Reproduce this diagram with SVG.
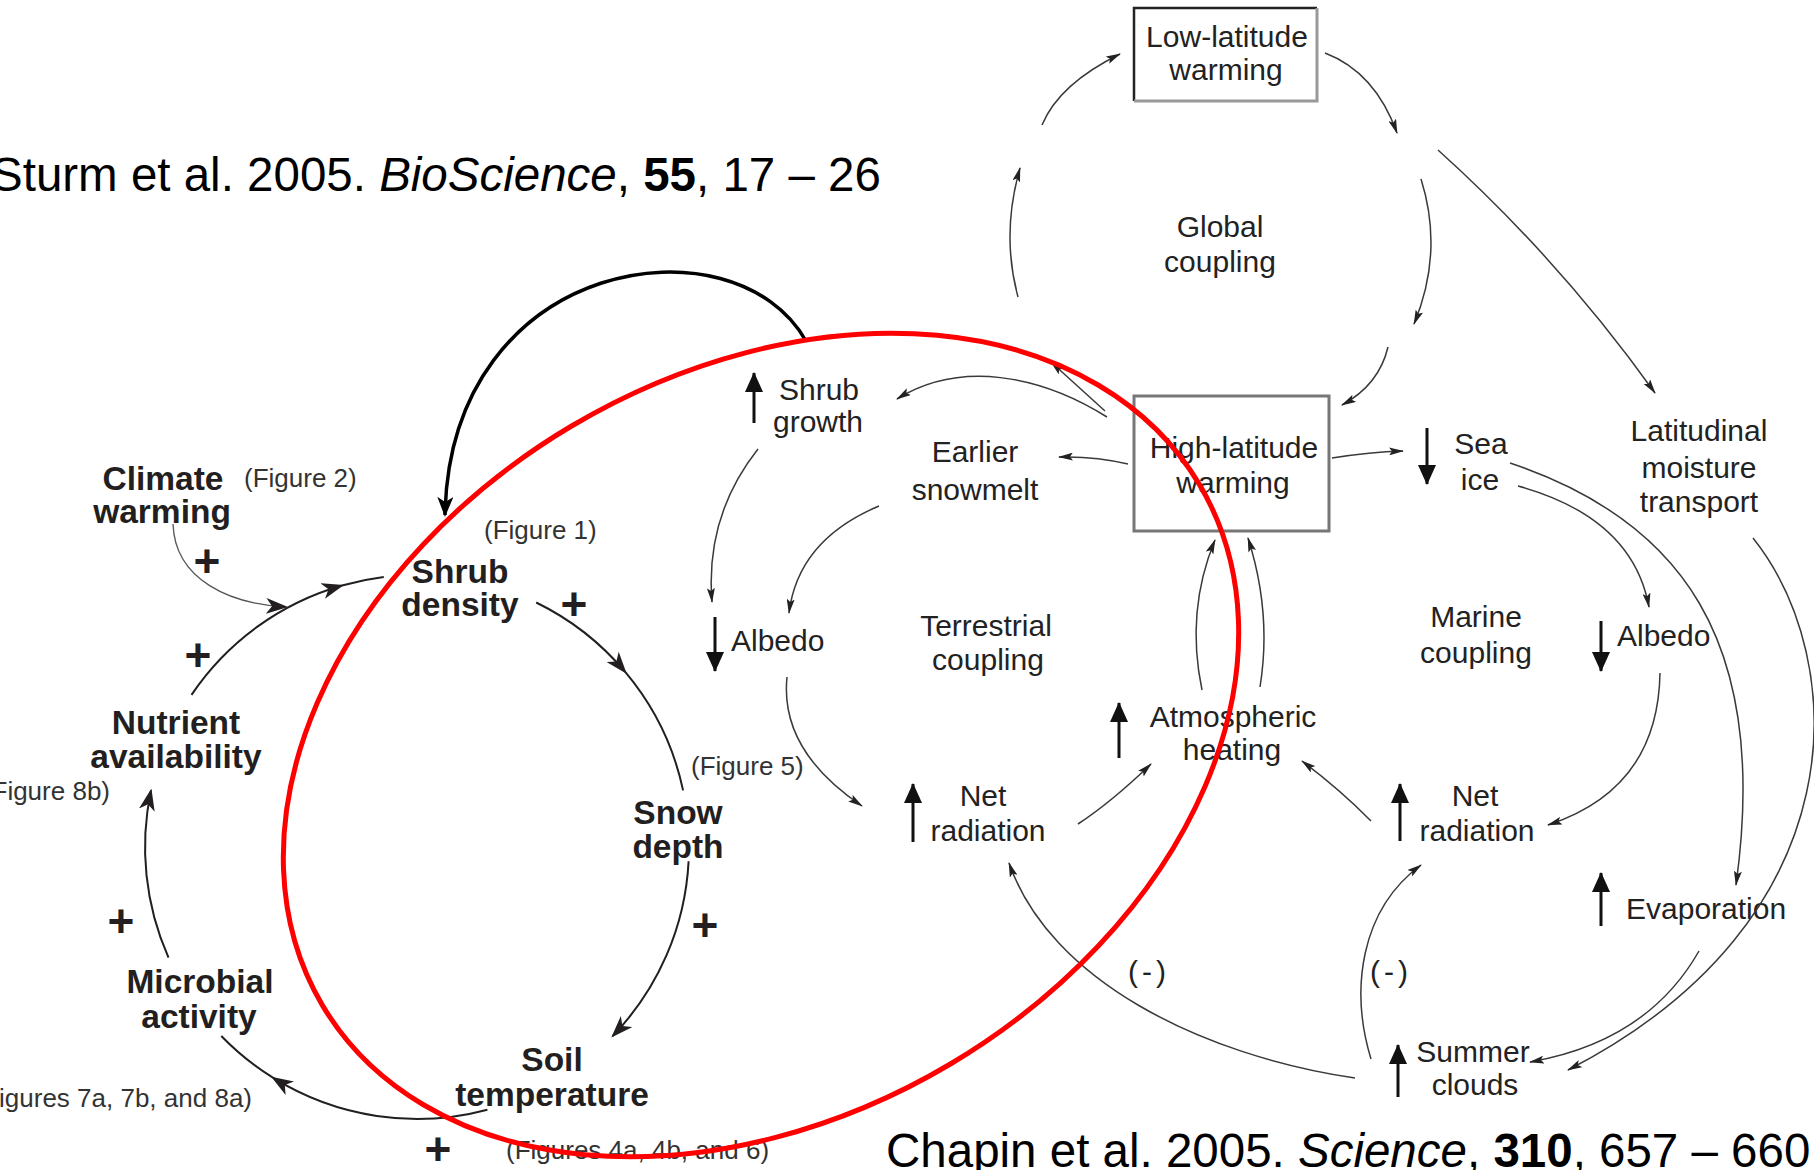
<svg xmlns="http://www.w3.org/2000/svg" width="1814" height="1170" viewBox="0 0 1814 1170">
<defs>
<style>
.sb{font-family:"Liberation Sans",Arial,sans-serif;font-weight:bold;font-size:33.5px;fill:#231f20;text-anchor:middle}
.sf{font-family:"Liberation Sans",Arial,sans-serif;font-size:26px;fill:#333}
.pl{font-family:"Liberation Sans",Arial,sans-serif;font-weight:bold;font-size:46px;fill:#231f20;text-anchor:middle}
.ct{font-family:"Liberation Sans",Arial,sans-serif;font-size:30px;fill:#222;text-anchor:middle}
.cs{font-family:"Liberation Sans",Arial,sans-serif;font-size:30px;fill:#222;text-anchor:start}
.cite{font-family:"Liberation Sans",Arial,sans-serif;font-size:47.5px;fill:#000}
.sl{fill:none;stroke:#231f20;stroke-width:2}
.cl{fill:none;stroke:#3a3a3a;stroke-width:1.5}
.ud{stroke:#111;stroke-width:3}
</style>
<marker id="ah" viewBox="0 0 22 16" refX="20" refY="8" markerWidth="22" markerHeight="16" markerUnits="userSpaceOnUse" orient="auto"><path d="M0,0 L22,8 L0,16 L6,8 z" fill="#231f20"/></marker>
<marker id="ahb" viewBox="0 0 20 16" refX="18" refY="8" markerWidth="20" markerHeight="16" markerUnits="userSpaceOnUse" orient="auto"><path d="M0,0 L20,8 L0,16 L5,8 z" fill="#000"/></marker>
<marker id="as" viewBox="0 0 15 8" refX="14" refY="4" markerWidth="15" markerHeight="8" markerUnits="userSpaceOnUse" orient="auto"><path d="M0,0 L15,4 L0,8 L3,4 z" fill="#222"/></marker>
<marker id="tri" viewBox="0 0 20 18" refX="19" refY="9" markerWidth="20" markerHeight="18" markerUnits="userSpaceOnUse" orient="auto"><path d="M0,0 L20,9 L0,18 z" fill="#111"/></marker>
</defs>
<rect width="1814" height="1170" fill="#fff"/>

<text class="cite" x="-9" y="191">Sturm et al. 2005. <tspan font-style="italic">BioScience</tspan>, <tspan font-weight="bold">55</tspan>, 17 – 26</text>
<text class="cite" x="886" y="1167">Chapin et al. 2005. <tspan font-style="italic">Science</tspan>, <tspan font-weight="bold">310</tspan>, 657 – 660</text>

<!-- Sturm nodes -->
<g id="n-climate"><text class="sb" x="163" y="490">Climate</text><text class="sb" x="162" y="523">warming</text><text class="sf" x="244" y="487">(Figure 2)</text></g>
<g id="n-shrub-density"><text class="sb" x="460" y="583">Shrub</text><text class="sb" x="460" y="616">density</text><text class="sf" x="484" y="539">(Figure 1)</text></g>
<g id="n-snow"><text class="sb" x="678" y="824">Snow</text><text class="sb" x="678" y="858">depth</text><text class="sf" x="691" y="775">(Figure 5)</text></g>
<g id="n-soil"><text class="sb" x="552" y="1071">Soil</text><text class="sb" x="552" y="1106">temperature</text><text class="sf" x="506" y="1159">(Figures 4a, 4b, and 6)</text></g>
<g id="n-microbial"><text class="sb" x="200" y="993">Microbial</text><text class="sb" x="199" y="1028">activity</text><text class="sf" x="252" y="1107" text-anchor="end">(Figures 7a, 7b, and 8a)</text></g>
<g id="n-nutrient"><text class="sb" x="176" y="734">Nutrient</text><text class="sb" x="176" y="768">availability</text><text class="sf" x="110" y="800" text-anchor="end">(Figure 8b)</text></g>

<g id="sturm-signs">
<text class="pl" x="207" y="577">+</text>
<text class="pl" x="574" y="620">+</text>
<text class="pl" x="198" y="671">+</text>
<text class="pl" x="121" y="937">+</text>
<text class="pl" x="705" y="941">+</text>
<text class="pl" x="438" y="1165">+</text>
</g>

<!-- Chapin nodes -->
<g id="n-low-lat">
<path d="M1134,101 V8 H1317" fill="none" stroke="#222" stroke-width="2.5"/>
<path d="M1134,101 H1317 V8" fill="none" stroke="#999" stroke-width="3"/>
<text class="ct" x="1227" y="47">Low-latitude</text><text class="ct" x="1226" y="80">warming</text>
</g>
<g id="n-global"><text class="ct" x="1220" y="237">Global</text><text class="ct" x="1220" y="272">coupling</text></g>
<g id="n-high-lat">
<rect x="1134" y="396" width="195" height="135" fill="none" stroke="#777" stroke-width="3"/>
<text class="ct" x="1234" y="458">High-latitude</text><text class="ct" x="1233" y="493">warming</text>
</g>
<g id="n-shrub-growth"><line class="ud" x1="754" y1="423" x2="754" y2="373" marker-end="url(#tri)"/><text class="ct" x="819" y="400">Shrub</text><text class="ct" x="818" y="432">growth</text></g>
<g id="n-snowmelt"><text class="ct" x="975" y="462">Earlier</text><text class="ct" x="975" y="500">snowmelt</text></g>
<g id="n-albedo-t"><line class="ud" x1="715" y1="617" x2="715" y2="671" marker-end="url(#tri)"/><text class="cs" x="731" y="651">Albedo</text></g>
<g id="n-terrestrial"><text class="ct" x="986" y="636">Terrestrial</text><text class="ct" x="988" y="670">coupling</text></g>
<g id="n-atmos"><line class="ud" x1="1119" y1="758" x2="1119" y2="703" marker-end="url(#tri)"/><text class="ct" x="1233" y="727">Atmospheric</text><text class="ct" x="1232" y="760">heating</text></g>
<g id="n-net-t"><line class="ud" x1="913" y1="842" x2="913" y2="784" marker-end="url(#tri)"/><text class="ct" x="983" y="806">Net</text><text class="ct" x="988" y="841">radiation</text></g>
<g id="n-sea-ice"><line class="ud" x1="1427" y1="428" x2="1427" y2="484" marker-end="url(#tri)"/><text class="ct" x="1481" y="454">Sea</text><text class="ct" x="1480" y="490">ice</text></g>
<g id="n-latitudinal"><text class="ct" x="1699" y="441">Latitudinal</text><text class="ct" x="1699" y="478">moisture</text><text class="ct" x="1699" y="512">transport</text></g>
<g id="n-marine"><text class="ct" x="1476" y="627">Marine</text><text class="ct" x="1476" y="663">coupling</text></g>
<g id="n-albedo-m"><line class="ud" x1="1601" y1="621" x2="1601" y2="671" marker-end="url(#tri)"/><text class="cs" x="1617" y="646">Albedo</text></g>
<g id="n-net-m"><line class="ud" x1="1400" y1="841" x2="1400" y2="784" marker-end="url(#tri)"/><text class="ct" x="1475" y="806">Net</text><text class="ct" x="1477" y="841">radiation</text></g>
<g id="n-evap"><line class="ud" x1="1601" y1="926" x2="1601" y2="873" marker-end="url(#tri)"/><text class="cs" x="1626" y="919">Evaporation</text></g>
<g id="n-clouds"><line class="ud" x1="1398" y1="1097" x2="1398" y2="1045" marker-end="url(#tri)"/><text class="ct" x="1473" y="1062">Summer</text><text class="ct" x="1475" y="1095">clouds</text></g>
<g id="n-neg"><text class="ct" x="1149" y="982" letter-spacing="4">(-)</text><text class="ct" x="1391" y="982" letter-spacing="4">(-)</text></g>

<!-- connectors -->
<g id="connectors">
<path class="sl" d="M536.2,602.5 A272,272 0 0 1 625.4,672.2" marker-end="url(#ah)"/>
<path class="sl" d="M625.4,672.2 A272,272 0 0 1 683.1,790.4"/>
<path class="sl" d="M688.6,861.2 A272,272 0 0 1 612.7,1036" marker-end="url(#ah)"/>
<path class="sl" d="M487.4,1109.7 A272,272 0 0 1 272.9,1077.7" marker-end="url(#ah)"/>
<path class="sl" d="M272.9,1077.7 A272,272 0 0 1 221.3,1036"/>
<path class="sl" d="M168.5,957.6 A272,272 0 0 1 151,790.5" marker-end="url(#ah)"/>
<path class="sl" d="M191.5,694.9 A272,272 0 0 1 342,585.5" marker-end="url(#ah)"/>
<path class="sl" d="M342,585.5 A272,272 0 0 1 383.8,577"/>
<path d="M173,524 C175,580 230,604 286,607" fill="none" stroke="#555" stroke-width="1.3" marker-end="url(#ah)"/>
<path class="cl" d="M1042,125 Q1059,84 1120,54" marker-end="url(#as)"/>
<path class="cl" d="M1018,297 Q1001,234 1020,168" marker-end="url(#as)"/>
<path class="cl" d="M1325,53 Q1375,72 1397,133" marker-end="url(#as)"/>
<path class="cl" d="M1421,179 Q1444,252 1414,324" marker-end="url(#as)"/>
<path class="cl" d="M1388,347 Q1379,385 1342,405" marker-end="url(#as)"/>
<path class="cl" d="M1438,150 Q1560,260 1655,393" marker-end="url(#as)"/>
<path class="cl" d="M1128,464 Q1095,456 1059,457" marker-end="url(#as)"/>
<path class="cl" d="M1107,417 C1040,375 960,360 897,399" marker-end="url(#as)"/>
<path class="cl" d="M1105,411 L1051,362" marker-end="url(#as)"/>
<path class="cl" d="M1332,458 Q1370,452 1403,451" marker-end="url(#as)"/>
<path class="cl" d="M1202,690 Q1185.5,611 1215,540" marker-end="url(#as)"/>
<path class="cl" d="M1260,687 Q1272,613 1248,538" marker-end="url(#as)"/>
<path class="cl" d="M758,449 Q705,516 712,602" marker-end="url(#as)"/>
<path class="cl" d="M879,506 Q798,540 789,613" marker-end="url(#as)"/>
<path class="cl" d="M787,677 Q779.5,750.5 862,806" marker-end="url(#as)"/>
<path class="cl" d="M1078,824 Q1111.5,802 1151,764" marker-end="url(#as)"/>
<path class="cl" d="M1355,1078 C1200,1055 1050,980 1009,863" marker-end="url(#as)"/>
<path class="cl" d="M1371,821 Q1340,789.5 1302,761" marker-end="url(#as)"/>
<path class="cl" d="M1371,1059 C1350,990 1360,910 1421,865" marker-end="url(#as)"/>
<path class="cl" d="M1518,486 Q1632.5,517.5 1649,607" marker-end="url(#as)"/>
<path class="cl" d="M1510,463 C1680,520 1770,640 1736,885" marker-end="url(#as)"/>
<path class="cl" d="M1660,673 Q1658,789 1548,825" marker-end="url(#as)"/>
<path class="cl" d="M1699,951 Q1647.5,1041.5 1530,1062" marker-end="url(#as)"/>
<path class="cl" d="M1753,538 C1850,660 1860,920 1568,1070" marker-end="url(#as)"/>
<path d="M806,341 C735,215 450,255 445,515" fill="none" stroke="#000" stroke-width="3.5" marker-end="url(#ahb)"/>
</g>

<ellipse id="highlight" cx="761" cy="745" rx="510" ry="371" transform="rotate(-30.7 761 745)" fill="none" stroke="#ff0000" stroke-width="5"/>
</svg>
